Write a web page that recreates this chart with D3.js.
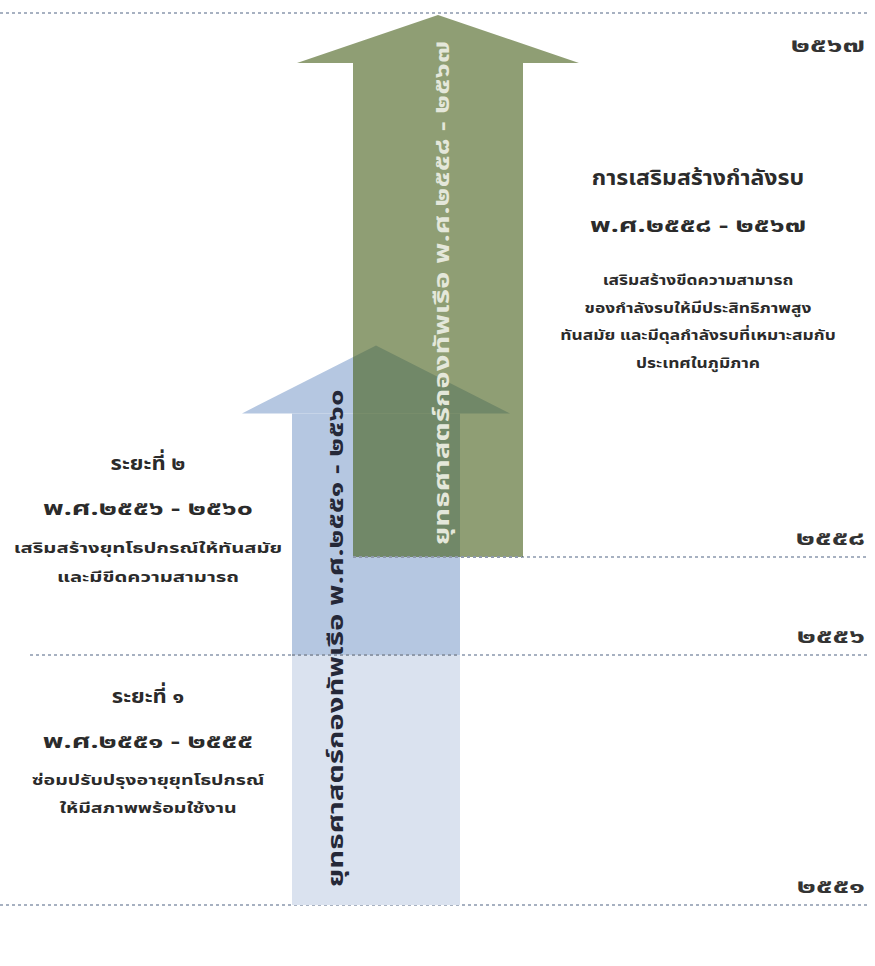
<!DOCTYPE html>
<html>
<head>
<meta charset="utf-8">
<script src="https://cdn.jsdelivr.net/npm/d3@7"></script>
<style>
  body { margin: 0; background: #fff; }
  text { font-family: "Noto Sans Thai", "Noto Sans", "DejaVu Sans", sans-serif; font-weight: bold; }
</style>
</head>
<body>
<script>
// Year marks (Buddhist Era) and their Thai-digit labels
var yearValues = [2551, 2556, 2558, 2567];
var yearLabels = ['๒๕๕๑', '๒๕๕๖', '๒๕๕๘', '๒๕๖๗'];

// Strategy arrows
var arrowNames = ['ยุทธศาสตร์กองทัพเรือ พ.ศ.๒๕๕๑ - ๒๕๖๐', 'ยุทธศาสตร์กองทัพเรือ พ.ศ.๒๕๕๘ - ๒๕๖๗'];
var arrowStart = [2551, 2558];
var arrowTip = [2561.5, 2567];

// Blue arrow shaft split by phase
var phaseStart = [2551, 2556];

// Text blocks
var phaseTitles = ['ระยะที่ ๑', 'ระยะที่ ๒', 'การเสริมสร้างกำลังรบ'];
var phaseRanges = ['พ.ศ.๒๕๕๑ - ๒๕๕๕', 'พ.ศ.๒๕๕๖ - ๒๕๖๐', 'พ.ศ.๒๕๕๘ - ๒๕๖๗'];
var phaseLines = [
  ['ซ่อมปรับปรุงอายุยุทโธปกรณ์', 'ให้มีสภาพพร้อมใช้งาน'],
  ['เสริมสร้างยุทโธปกรณ์ให้ทันสมัย', 'และมีขีดความสามารถ'],
  ['เสริมสร้างขีดความสามารถ', 'ของกำลังรบให้มีประสิทธิภาพสูง', 'ทันสมัย และมีดุลกำลังรบที่เหมาะสมกับ', 'ประเทศในภูมิภาค']
];

var w = 875;
var h = 966;

var svg = d3.select('body').append('svg').attr('width', w).attr('height', h);

// y position of a year
var y = d3.scaleLinear().domain(yearValues).range([905, 655, 557, 13]);

// widen text horizontally (reference font is a wide looped Thai face)
function stretch(sel, f) {
  sel.attr('textLength', function() { return this.getComputedTextLength() * f; })
    .attr('lengthAdjust', 'spacingAndGlyphs');
}

// arrow layout: centre, shaft half width, head half width, head height
var arrowStyle = [
  { cx: 376, half: 84, headHalf: 134, headH: 68, text: '#252838' },
  { cx: 438, half: 85, headHalf: 141, headH: 48, text: '#e4e7da' }
];
var blueShades = ['#dae2ef', '#b5c7e1'];
var greenFill = '#455d18';
var greenOpacity = 0.6;
var dotColor = '#a7b1c1';

// grid lines (dotted)
var lineStart = [0, 30, 353, 0];
svg.selectAll('line.grid').data(yearValues).enter().append('line')
  .attr('class', 'grid')
  .attr('x1', function(d, i) { return lineStart[i]; })
  .attr('x2', 868)
  .attr('y1', function(d) { return y(d); })
  .attr('y2', function(d) { return y(d); })
  .attr('stroke', dotColor)
  .attr('stroke-width', 2)
  .attr('stroke-dasharray', '3,3');

// blue arrow: two phase blocks + head
var blue = arrowStyle[0];
var blueShoulder = y(arrowTip[0]) + blue.headH;
var phaseEnd = [2556, y.invert(blueShoulder)];

svg.selectAll('rect.phase').data(phaseStart).enter().append('rect')
  .attr('class', 'phase')
  .attr('x', blue.cx - blue.half)
  .attr('width', blue.half * 2)
  .attr('y', function(d, i) { return y(phaseEnd[i]); })
  .attr('height', function(d, i) { return y(d) - y(phaseEnd[i]); })
  .attr('fill', function(d, i) { return blueShades[i]; });

svg.append('path')
  .attr('d', d3.line()([
    [blue.cx - blue.headHalf, blueShoulder],
    [blue.cx, y(arrowTip[0])],
    [blue.cx + blue.headHalf, blueShoulder]
  ]) + 'Z')
  .attr('fill', blueShades[1]);

// green arrow on top, semi-transparent over the blue one
var green = arrowStyle[1];
var gTip = y(arrowTip[1]) + 2;
var gShoulder = gTip + green.headH;
svg.append('path')
  .attr('d', d3.line()([
    [green.cx - green.half, y(arrowStart[1])],
    [green.cx - green.half, gShoulder],
    [green.cx - green.headHalf, gShoulder],
    [green.cx, gTip],
    [green.cx + green.headHalf, gShoulder],
    [green.cx + green.half, gShoulder],
    [green.cx + green.half, y(arrowStart[1])]
  ]) + 'Z')
  .attr('fill', greenFill)
  .attr('fill-opacity', greenOpacity);

// re-draw the 2556 and 2558 dotted lines across the arrows
svg.selectAll('line.top').data([yearValues[1], yearValues[2]]).enter().append('line')
  .attr('x1', function(d, i) { return [292, 353][i]; })
  .attr('x2', function(d, i) { return [460, 522][i]; })
  .attr('y1', function(d) { return y(d); })
  .attr('y2', function(d) { return y(d); })
  .attr('stroke', '#8e99aa')
  .attr('stroke-width', 2)
  .attr('stroke-dasharray', '3,3');

// rotated arrow labels
var labelBottom = [887, 545];
var labelX = [343, 449];
svg.selectAll('text.arrow').data(arrowNames).enter().append('text')
  .attr('class', 'arrow')
  .attr('transform', function(d, i) { return 'translate(' + labelX[i] + ',' + labelBottom[i] + ') rotate(-90)'; })
  .attr('font-size', '21px')
  .attr('fill', function(d, i) { return arrowStyle[i].text; })
  .text(function(d) { return d; })
  .call(stretch, 1.4);

// year labels
svg.selectAll('text.year').data(yearValues).enter().append('text')
  .attr('class', 'year')
  .attr('x', 865)
  .attr('y', function(d, i) { return y(d) + (i === 3 ? 39 : -12); })
  .attr('text-anchor', 'end')
  .attr('font-size', '20px')
  .attr('fill', '#333')
  .text(function(d, i) { return yearLabels[i]; })
  .call(stretch, 1.5);

// phase text blocks
var blockX = [148, 148, 698];
var titleY = [703, 470, 185];
var rangeY = [748, 515, 232];
var linesY = [785, 553, 285];
var lineGap = [28, 29, 27.5];
var titleSize = ['20px', '20px', '21px'];
var bodyStretch = [1.35, 1.4, 1.2];

phaseTitles.forEach(function(t, i) {
  var g = svg.append('g').attr('text-anchor', 'middle').attr('fill', '#2b2b2b');
  g.append('text').attr('x', blockX[i]).attr('y', titleY[i]).attr('font-size', titleSize[i]).text(t)
    .call(stretch, 1.1);
  g.append('text').attr('x', blockX[i]).attr('y', rangeY[i]).attr('font-size', '19px').text(phaseRanges[i])
    .call(stretch, 1.5);
  g.selectAll('text.desc').data(phaseLines[i]).enter().append('text')
    .attr('class', 'desc')
    .attr('x', blockX[i])
    .attr('y', function(d, j) { return linesY[i] + j * lineGap[i]; })
    .attr('font-size', '14.5px')
    .text(function(d) { return d; })
    .call(stretch, bodyStretch[i]);
});
</script>
</body>
</html>
